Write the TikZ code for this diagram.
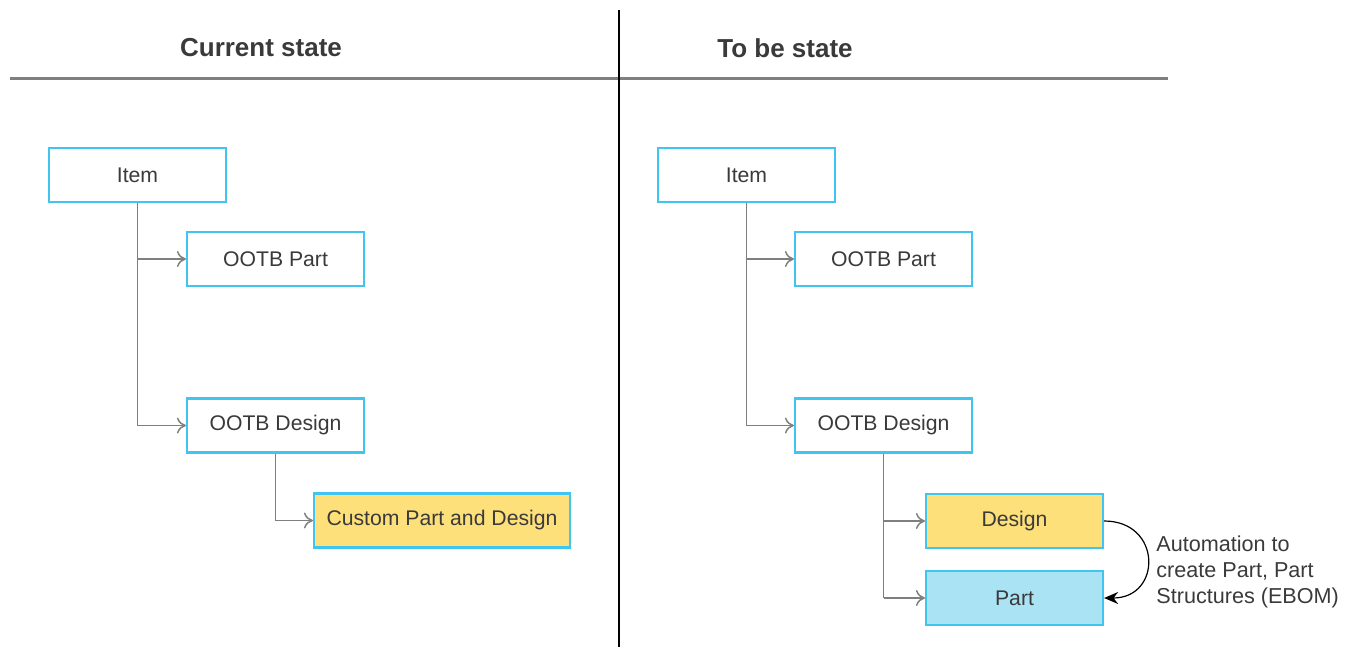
\documentclass[tikz,border=0pt]{standalone}
\usepackage{fontspec}
\setmainfont{Liberation Sans}
\usetikzlibrary{arrows.meta,calc}
\definecolor{boxline}{HTML}{40C4F0}
\definecolor{linkgray}{HTML}{7F7F7F}
\definecolor{txt}{HTML}{3A3A3A}
\definecolor{yel}{HTML}{FDE07A}
\definecolor{cyanfill}{HTML}{A9E3F4}
\tikzset{
  x=0.5pt, y=-0.5pt,
  box/.style={draw=boxline, line width=1.1pt, fill=white, minimum width=88.5pt,
    minimum height=27pt, inner sep=0pt, text=txt, font=\fontsize{10.6}{12}\selectfont},
  yelbox/.style={box, fill=yel},
  cyanbox/.style={box, fill=cyanfill},
  link/.style={draw=linkgray, line width=0.75pt, -{To[length=4.5pt,width=8pt]}},
  trunk/.style={draw=linkgray, line width=0.75pt},
  title/.style={font=\bfseries\fontsize{13}{15}\selectfont, text=txt},
}
\begin{document}
\begin{tikzpicture}
\useasboundingbox (0,0) rectangle (1353,647);

% section headers and dividers
\draw[linkgray, line width=1.5pt] (10,79) -- (1168,79);
\draw[black, line width=0.6pt] (619,10) -- (619,647);
\node[title] (curtitle) at (261,48) {Current state};
\node[title] (tobetitle) at (785,48) {To be state};

% current state
\node[box] (litem) at (137.5,175) {Item};
\node[box] (lpart) at (275.5,259) {OOTB Part};
\node[box] (ldesign) at (275.5,425.5) {OOTB Design};
\node[yelbox, minimum width=128pt] (lcustom) at (442,520.5) {Custom Part and Design};

\draw[trunk] (litem.south) -- (litem.south |- ldesign.west);
\draw[link] (litem.south |- lpart.west) -- (lpart.west);
\draw[link] (litem.south |- ldesign.west) -- (ldesign.west);
\draw[link] (ldesign.south) |- (lcustom.west);

% to be state
\node[box] (ritem) at (746.5,175) {Item};
\node[box] (rpart) at (883.5,259) {OOTB Part};
\node[box] (rdesign) at (883.5,425.5) {OOTB Design};
\node[yelbox] (design) at (1014.5,521) {Design};
\node[cyanbox] (part) at (1014.5,598) {Part};

\draw[trunk] (ritem.south) -- (ritem.south |- rdesign.west);
\draw[link] (ritem.south |- rpart.west) -- (rpart.west);
\draw[link] (ritem.south |- rdesign.west) -- (rdesign.west);
\draw[trunk] (rdesign.south) -- (rdesign.south |- part.west);
\draw[link] (rdesign.south |- design.west) -- (design.west);
\draw[link] (rdesign.south |- part.west) -- (part.west);

% automation link
\draw[black, line width=0.6pt, -{Stealth[length=7pt,width=6pt]}]
  (design.east) .. controls +(29pt,0) and +(29pt,0) .. (part.east);
\node[anchor=north west, align=left, text=txt, inner sep=0pt,
  font=\fontsize{10.8}{13.2}\selectfont] (autolabel) at (1156,535)
  {Automation to\\create Part, Part\\Structures (EBOM)};
\end{tikzpicture}
\end{document}
